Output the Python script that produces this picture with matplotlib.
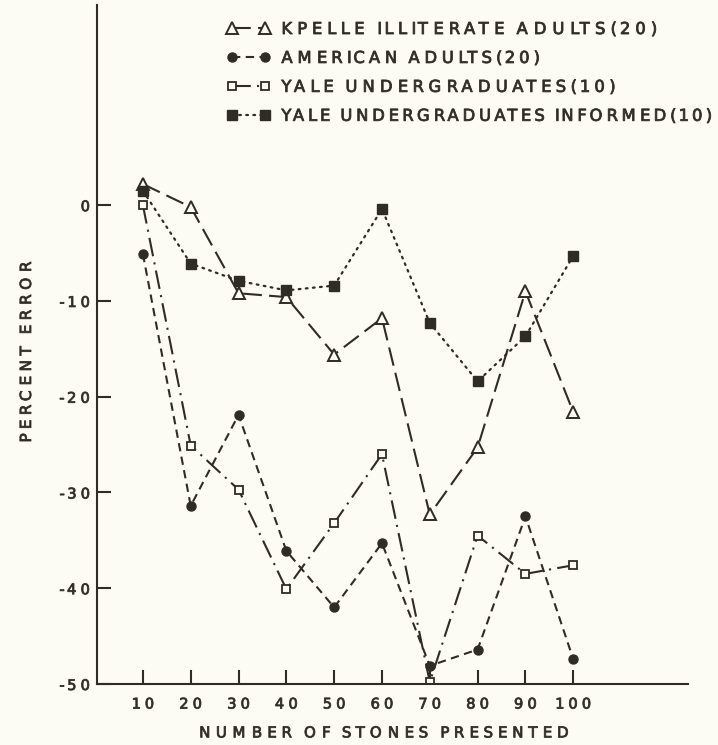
import numpy as np
import matplotlib
matplotlib.use("Agg")
import matplotlib.pyplot as plt
from matplotlib.path import Path
from matplotlib.patheffects import AbstractPathEffect

# stones presented (x) and percent error for each group
stones = [10, 20, 30, 40, 50, 60, 70, 80, 90, 100]
kpelle = [2.2, -0.2, -9.2, -9.6, -15.6, -11.8, -32.3, -25.3, -9.0, -21.6]
american = [-5.1, -31.4, -21.9, -36.1, -42.0, -35.3, -48.1, -46.4, -32.5, -47.4]
yale = [0.0, -25.1, -29.7, -40.1, -33.2, -26.0, -49.8, -34.5, -38.5, -37.6]
yale_informed = [1.5, -6.1, -7.9, -8.9, -8.4, -0.4, -12.3, -18.4, -13.7, -5.3]

labels = ["KPELLE ILLITERATE ADULTS(20)", "AMERICAN ADULTS(20)",
          "YALE UNDERGRADUATES(10)", "YALE UNDERGRADUATES INFORMED(10)"]
yticks = [0, -10, -20, -30, -40, -50]
ytick_labels = ["0", "-10", "-20", "-30", "-40", "-50"]

ink = "#2f2b27"
paper = "#fdfcf4"
plt.rcParams["font.family"] = ["DejaVu Sans"]


class Spaced(AbstractPathEffect):
    """Pull the glyphs of a text apart (lettering-guide look)."""

    def __init__(self, factor=1.5, anchor=0.0, weight=0.6):
        super().__init__()
        self.factor = factor
        self.anchor = anchor  # 0 left, 0.5 centre, 1 right
        self.weight = weight

    def draw_path(self, renderer, gc, tpath, affine, rgbFace=None):
        verts = np.array(tpath.vertices, dtype=float)
        codes = tpath.codes
        if codes is not None and len(verts):
            starts = list(np.nonzero(codes == Path.MOVETO)[0]) + [len(codes)]
            parts = []
            for s, e in zip(starts[:-1], starts[1:]):
                keep = codes[s:e] != Path.CLOSEPOLY
                xs = verts[s:e, 0][keep]
                if len(xs):
                    parts.append((xs.min(), xs.max(), s, e))
            parts.sort()
            glyph = []
            gmin = gmax = None
            for lo, hi, s, e in parts:
                if gmin is None or not (lo >= gmin - 1e-6 and hi <= gmax + 1e-6):
                    gmin, gmax = lo, hi
                glyph.append((gmin, s, e))
            if glyph:
                k = self.factor - 1
                x0 = glyph[0][0]
                extra = k * (glyph[-1][0] - x0)
                for g, s, e in glyph:
                    verts[s:e, 0] += k * (g - x0) - self.anchor * extra
            tpath = Path(verts, codes)
        gc0 = renderer.new_gc()
        gc0.copy_properties(gc)
        gc0.set_linewidth(self.weight)
        renderer.draw_path(gc0, tpath, affine, rgbFace)
        gc0.restore()


fig = plt.figure(figsize=(7.18, 7.45), dpi=100, facecolor=paper)
ax = fig.add_axes([97 / 718, 1 - 684 / 745, 591 / 718, 679 / 745])
ax.set_facecolor(paper)

ax.plot(stones, kpelle, color=ink, lw=1.5, ls=(0, (9, 3.5)), marker="^",
        ms=8.5, mfc=paper, mec=ink, mew=1.4, label=labels[0])
ax.plot(stones, american, color=ink, lw=1.5, ls=(0, (4, 2.6)), marker="o",
        ms=6.5, mfc=ink, mec=ink, label=labels[1])
ax.plot(stones, yale, color=ink, lw=1.5, ls=(0, (9, 3, 1, 3)), marker="s",
        ms=6, mfc=paper, mec=ink, mew=1.3, label=labels[2])
ax.plot(stones, yale_informed, color=ink, lw=1.6, ls=(0, (0.8, 2.4)),
        dash_capstyle="round", marker="s", ms=7, mfc=ink, mec=ink,
        label=labels[3])

ax.set_xlim(0.4, 124)
ax.set_ylim(-50, 20.9)
ax.set_xticks(stones)
ax.set_xticklabels([str(s) for s in stones])
ax.set_yticks(yticks)
ax.set_yticklabels(ytick_labels)

for side in ["top", "right"]:
    ax.spines[side].set_visible(False)
for side in ["left", "bottom"]:
    ax.spines[side].set_color(ink)
    ax.spines[side].set_linewidth(1.5)
ax.tick_params(direction="in", length=10, width=1.5, color=ink,
               labelcolor=ink, labelsize=10.5)
ax.tick_params(axis="x", pad=9)
ax.tick_params(axis="y", pad=5)
for t in ax.get_xticklabels():
    t.set_path_effects([Spaced(1.45, 0.5)])
for t in ax.get_yticklabels():
    t.set_path_effects([Spaced(1.45, 1.0)])

xl = ax.set_xlabel("NUMBER OF STONES PRESENTED", fontsize=10.8, color=ink,
                   labelpad=10)
yl = ax.set_ylabel("PERCENT ERROR", fontsize=11, color=ink, labelpad=23)
ax.xaxis.label.set_x((384 - 97) / 591)
ax.yaxis.label.set_y((684 - 352) / 679)
xl.set_path_effects([Spaced(1.5, 0.5)])
yl.set_path_effects([Spaced(1.45, 0.5)])

leg = fig.legend(loc="upper left", bbox_to_anchor=(227 / 718, 1 - 22 / 745),
                 frameon=False, numpoints=2, handlelength=2.6,
                 handletextpad=0.72, labelspacing=0.85, borderpad=0,
                 borderaxespad=0, fontsize=11.8, labelcolor=ink)
# the hand lettering is not proportional like DejaVu, so spread each row a bit differently
for t, f in zip(leg.get_texts(), [1.48, 1.38, 1.42, 1.31]):
    t.set_path_effects([Spaced(f, 0.0)])

fig.savefig("out.png", dpi=100, facecolor=paper)
